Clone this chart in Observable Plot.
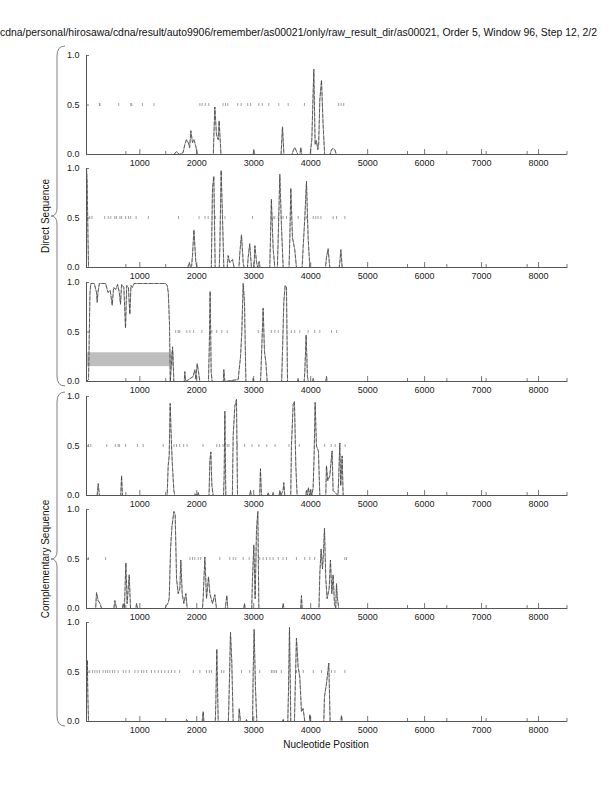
<!DOCTYPE html>
<html><head><meta charset="utf-8">
<script src="https://cdn.jsdelivr.net/npm/d3@7"></script>
<script src="https://cdn.jsdelivr.net/npm/@observablehq/plot@0.6"></script>
<style>
body{margin:0;background:#fff}
#page{position:relative;width:612px;height:792px;overflow:hidden;font-family:"Liberation Sans",Arial,sans-serif}
</style></head><body><div id="page"></div>
<script>
// ---- data (position, score) per panel ----
const panel1 = [[64,0],[1600,0],[1645,0.03],[1690,0],[1760,0.02],[1790,0.10],[1820,0.15],[1850,0.12],[1875,0.07],[1896,0.24],[1925,0.12],[1950,0.15],[1984,0.08],[2010,0],[2290,0],[2317,0.48],[2346,0.20],[2376,0.15],[2393,0.34],[2425,0],[2985,0],[3002,0.04],[3020,0],[3480,0],[3505,0.28],[3530,0],[3670,0],[3700,0.05],[3720,0.07],[3745,0.04],[3775,0],[3810,0],[3826,0.07],[3845,0],[3990,0],[4020,0.15],[4055,0.86],[4078,0.10],[4100,0.14],[4125,0.05],[4140,0.10],[4160,0.55],[4190,0.75],[4218,0.30],[4245,0],[4340,0],[4365,0.05],[4395,0.06],[4423,0.05],[4450,0],[8500,0]];
const panel2 = [[64,1.0],[75,0.88],[90,0.3],[100,0],[1840,0],[1870,0.05],[1890,0],[1910,0.02],[1925,0.12],[1950,0.38],[1984,0.05],[2007,0],[2255,0],[2276,0.80],[2300,0.92],[2323,0],[2395,0],[2405,0.20],[2428,0.98],[2452,0.50],[2475,0],[2535,0],[2551,0.12],[2580,0.05],[2627,0.08],[2656,0],[2740,0],[2756,0.15],[2785,0.33],[2815,0.05],[2830,0],[2890,0],[2902,0.10],[2930,0.24],[2960,0],[3005,0],[3020,0.22],[3050,0.05],[3070,0],[3095,0.06],[3110,0],[3282,0],[3310,0.69],[3340,0.20],[3370,0],[3415,0],[3430,0.30],[3458,0.94],[3488,0.40],[3517,0],[3620,0],[3634,0.30],[3651,0.80],[3680,0.30],[3721,0.18],[3750,0],[3850,0],[3867,0.20],[3897,0.50],[3926,0.87],[3955,0.30],[3985,0],[4260,0],[4277,0.10],[4306,0.19],[4335,0],[4500,0],[4511,0.05],[4530,0.18],[4552,0],[8500,0]];
const panel3 = [[64,0],[100,0.02],[125,0.9],[140,0.99],[200,0.99],[240,0.9],[252,0.80],[265,0.9],[290,0.99],[400,0.99],[440,0.9],[480,0.92],[516,0.77],[540,0.95],[580,0.93],[610,0.98],[640,0.9],[661,0.78],[680,0.98],[720,0.95],[749,0.54],[770,0.97],[800,0.95],[825,0.68],[845,0.97],[870,0.95],[900,0.99],[1000,0.99],[1200,0.99],[1450,0.99],[1480,0.97],[1500,0.90],[1520,0.60],[1535,0],[1557,0.20],[1575,0.35],[1598,0],[1780,0],[1790,0.10],[1805,0],[1937,0.05],[1966,0.12],[1985,0.02],[2007,0.18],[2030,0.10],[2054,0],[2205,0],[2218,0.30],[2235,0.91],[2253,0.10],[2270,0],[2465,0],[2475,0.12],[2493,0],[2727,0.02],[2768,0.25],[2791,0.50],[2815,0.99],[2838,0.80],[2862,0],[2980,0],[2990,0.03],[3000,0],[3120,0],[3136,0.25],[3165,0.74],[3189,0.30],[3212,0.20],[3236,0],[3490,0],[3505,0.30],[3528,0.80],[3552,0.97],[3575,0.95],[3593,0],[3770,0],[3780,0.03],[3790,0],[3885,0],[3897,0.10],[3920,0.47],[3943,0.05],[3960,0],[4035,0],[4043,0.03],[4055,0],[4265,0],[4277,0.05],[4290,0],[8500,0]];
const panel4 = [[64,0],[250,0],[270,0.12],[290,0],[665,0],[680,0.20],[695,0],[1480,0],[1498,0.30],[1516,0.40],[1533,0.93],[1557,0.50],[1575,0.27],[1598,0.05],[1615,0],[1950,0],[1966,0.02],[2000,0],[2025,0.03],[2040,0],[2215,0],[2230,0.35],[2247,0.44],[2265,0.10],[2288,0],[2470,0],[2481,0.20],[2493,0.85],[2510,0],[2625,0],[2639,0.60],[2668,0.90],[2697,0.97],[2715,0],[2930,0],[2943,0.05],[2960,0],[3105,0],[3118,0.27],[3136,0],[3240,0],[3253,0.03],[3270,0],[3330,0],[3340,0.03],[3355,0],[3445,0],[3458,0.05],[3475,0],[3515,0.05],[3528,0.13],[3545,0],[3650,0],[3662,0.50],[3692,0.92],[3715,0.95],[3739,0.30],[3762,0],[3910,0],[3926,0.05],[3940,0],[3960,0.08],[3980,0],[4000,0.06],[4020,0],[4043,0.08],[4060,0.40],[4078,0.94],[4101,0.50],[4136,0.45],[4160,0],[4265,0],[4277,0.30],[4300,0.15],[4335,0.20],[4376,0.45],[4394,0.05],[4480,0],[4493,0.20],[4511,0.53],[4528,0.10],[4552,0.40],[4570,0],[8500,0]];
const panel5 = [[64,0],[225,0],[240,0.16],[270,0.08],[300,0.05],[330,0],[545,0],[562,0.08],[592,0],[695,0],[708,0.05],[730,0],[755,0.46],[778,0.05],[814,0.34],[837,0],[930,0],[943,0.05],[960,0],[1440,0],[1469,0.03],[1500,0.06],[1516,0.10],[1540,0.60],[1563,0.82],[1598,0.98],[1621,0.95],[1645,0.30],[1674,0.15],[1703,0.20],[1720,0.49],[1744,0.15],[1773,0.05],[1808,0.15],[1832,0],[2100,0],[2112,0.10],[2142,0.52],[2171,0.10],[2206,0.32],[2230,0.15],[2277,0.05],[2317,0.14],[2346,0],[2500,0],[2510,0.05],[2528,0.13],[2545,0],[2825,0],[2838,0.05],[2850,0],[2965,0],[2978,0.30],[3002,0.64],[3025,0.10],[3049,0.80],[3072,0.98],[3090,0],[3505,0],[3517,0.05],[3530,0],[3825,0],[3838,0.13],[3850,0],[4145,0],[4160,0.35],[4183,0.60],[4207,0.40],[4224,0.55],[4242,0.81],[4265,0.30],[4289,0.10],[4324,0.20],[4347,0.49],[4371,0.15],[4394,0.34],[4417,0.05],[4440,0],[4453,0.25],[4470,0.10],[4493,0],[8500,0]];
const panel6 = [[64,0.3],[78,0.62],[88,0.25],[100,0],[1810,0],[1820,0.02],[1840,0],[2095,0],[2112,0.10],[2125,0],[2325,0],[2335,0.20],[2352,0.73],[2376,0],[2555,0],[2569,0.30],[2592,0.90],[2615,0.60],[2639,0],[2735,0],[2745,0.13],[2768,0],[2865,0],[2873,0.02],[2885,0],[2980,0],[2990,0.50],[3007,0.93],[3030,0.35],[3054,0],[3505,0],[3517,0.02],[3530,0],[3598,0],[3610,0.30],[3628,0.95],[3651,0],[3715,0],[3727,0.30],[3750,0.84],[3780,0.55],[3809,0.45],[3838,0.10],[3867,0.13],[3897,0],[3975,0],[3985,0.07],[4000,0],[4230,0],[4242,0.25],[4277,0.38],[4318,0.59],[4341,0],[4530,0],[4540,0.06],[4555,0],[8500,0]];

// ---- marker positions drawn at 0.5 ----
const dash1 = [290,300,630,840,860,1045,1250,2055,2095,2150,2210,2460,2505,2545,2720,2780,2895,2945,3090,3150,3265,3440,3605,3890,4490,4535,4580];
const dash2 = [120,160,385,445,490,560,590,650,680,750,800,840,935,1150,1680,2040,2145,2200,2330,2495,2980,3340,3370,3430,3515,3575,3780,3925,4045,4090,4130,4180,4395,4455,4600];
const dash3 = [1630,1675,1700,1825,1880,1945,2090,2265,2350,2440,2535,3080,3310,3370,3430,3660,3720,3810,3955,4070,4160,4365,4455];
const dash4 = [100,140,420,570,620,640,750,960,1060,1410,1600,1645,1700,1770,1830,2110,2350,2400,2460,2535,2565,2715,2840,2970,3090,3230,3375,3620,3800,4245,4360,4430,4605];
const dash5 = [95,400,1880,1925,1965,2025,2070,2405,2580,2640,2685,2815,2920,3105,3165,3225,3285,3340,3430,3515,3575,3750,3895,3985,4070,4185,4600,4630];
const dash6 = [120,170,210,250,290,355,400,435,475,520,560,620,710,755,815,915,970,1030,1070,1120,1205,1265,1325,1380,1440,1500,1555,1615,1700,1940,2055,2170,2220,2260,2435,2475,2785,2930,3105,3310,3340,3370,3400,3485,3750,3870,4045,4190,4365,4425,4600];

// ---- axes ----
const xDomain = [64, 8500];
const majorTicks = [1000,2000,3000,4000,5000,6000,7000,8000];
const minorTicks = [755,1455,5700,6390,7080,7800,8500];
const yTicks = [0, 0.5, 1];
const greyBox = [{x1: 70, x2: 1600, y1: 0.15, y2: 0.29}]; // panel 3 only

const titleText = "cdna/personal/hirosawa/cdna/result/auto9906/remember/as00021/only/raw_result_dir/as00021, Order 5, Window 96, Step 12, 2/2";
const groupLabels = ["Direct Sequence", "Complementary Sequence"];
const xLabel = "Nucleotide Position";

const panels = [panel1, panel2, panel3, panel4, panel5, panel6];
const dashes = [dash1, dash2, dash3, dash4, dash5, dash6];

const page = document.getElementById("page");
const mt = 8, mb = 18, plotH = 99;
const tops = [55, 168.4, 282.3, 395.5, 509, 622.4];
const axisColor = "#555";

panels.forEach((data, i) => {
  const marks = [];
  if (i === 2) marks.push(Plot.rect(greyBox, {x1: "x1", x2: "x2", y1: "y1", y2: "y2", fill: "#bebebe"}));
  marks.push(
    Plot.ruleX(dashes[i], {x: d => d, y1: 0.485, y2: 0.515, stroke: "#8a8a8a", strokeWidth: 0.8}),
    Plot.line(data, {x: d => d[0], y: d => d[1], stroke: "#8e8e8e", strokeWidth: 0.9}),
    Plot.line(data, {x: d => d[0], y: d => d[1], stroke: "#333", strokeWidth: 0.6, strokeDasharray: "3,2.5"}),
    Plot.ruleX(majorTicks, {x: d => d, y1: 0, y2: 0.05, stroke: axisColor, strokeWidth: 0.8}),
    Plot.ruleX(minorTicks, {x: d => d, y1: 0, y2: 0.03, stroke: axisColor, strokeWidth: 0.8}),
    Plot.ruleY(yTicks, {y: d => d, x1: xDomain[0], x2: xDomain[0] + 53, stroke: axisColor, strokeWidth: 0.8}),
    Plot.ruleY([0], {x1: xDomain[0], x2: xDomain[1], stroke: axisColor, strokeWidth: 1}),
    Plot.ruleX([xDomain[0]], {y1: 0, y2: 1, stroke: axisColor, strokeWidth: 1}),
    Plot.axisX({ticks: majorTicks, tickSize: 0, tickPadding: 5, tickFormat: d3.format("d"), label: null}),
    Plot.axisY({ticks: yTicks, tickSize: 0, tickPadding: 7, tickFormat: d => d.toFixed(1), label: null})
  );
  const chart = Plot.plot({
    width: 612, height: plotH + mt + mb,
    marginTop: mt, marginBottom: mb, marginLeft: 86, marginRight: 45.5,
    x: {domain: xDomain},
    y: {domain: [0, 1]},
    style: {fontFamily: '"Liberation Sans", Arial, sans-serif', fontSize: "9px", color: "#222", background: "transparent", overflow: "visible"},
    marks
  });
  chart.style.position = "absolute";
  chart.style.left = "0px";
  chart.style.top = (tops[i] - mt) + "px";
  page.appendChild(chart);
});

// ---- overlay: title, braces, labels ----
const ns = "http://www.w3.org/2000/svg";
const ov = document.createElementNS(ns, "svg");
ov.setAttribute("width", 612); ov.setAttribute("height", 792);
ov.style.position = "absolute"; ov.style.left = "0px"; ov.style.top = "0px";
ov.style.fontFamily = '"Liberation Sans", Arial, sans-serif';
page.appendChild(ov);
function el(tag, attrs, text) {
  const e = document.createElementNS(ns, tag);
  for (const k in attrs) e.setAttribute(k, attrs[k]);
  if (text) e.textContent = text;
  ov.appendChild(e);
  return e;
}
el("text", {x: 0, y: 36, "font-size": 10, fill: "#111", textLength: 597, lengthAdjust: "spacingAndGlyphs"}, titleText);
function brace(y0, y1) {
  const m = (y0 + y1) / 2, xv = 57, xe = 65, xt = 51;
  return `M${xe},${y0} Q${xv},${y0} ${xv},${y0+10} L${xv},${m-8} Q${xv},${m} ${xt},${m} Q${xv},${m} ${xv},${m+8} L${xv},${y1-10} Q${xv},${y1} ${xe},${y1}`;
}
el("path", {d: brace(46, 386), fill: "none", stroke: "#808080", "stroke-width": 1});
el("path", {d: brace(392, 726), fill: "none", stroke: "#808080", "stroke-width": 1});
el("text", {x: 0, y: 0, transform: "translate(45,216) rotate(-90)", "text-anchor": "middle", dy: "0.35em", "font-size": 10, fill: "#111"}, groupLabels[0]);
el("text", {x: 0, y: 0, transform: "translate(45,559) rotate(-90)", "text-anchor": "middle", dy: "0.35em", "font-size": 10, fill: "#111"}, groupLabels[1]);
el("text", {x: 326, y: 748, "text-anchor": "middle", "font-size": 10, fill: "#111"}, xLabel);
</script></body></html>
